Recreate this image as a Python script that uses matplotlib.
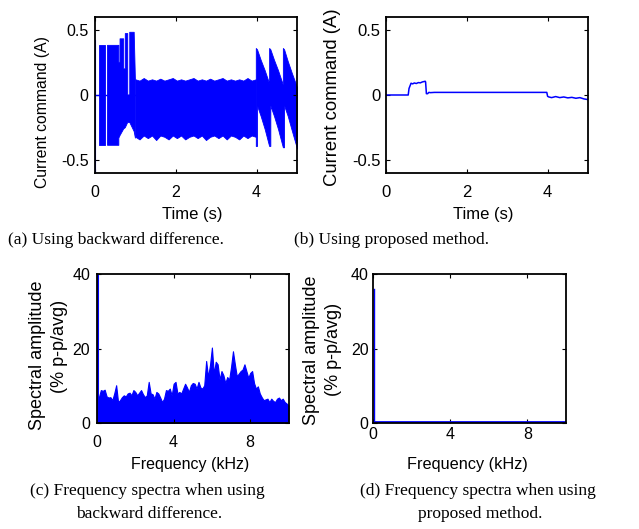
import matplotlib
matplotlib.use("Agg")
import matplotlib.pyplot as plt
import numpy as np

W, H = 639, 529
BLUE = "#0000ff"
SANS = ["Liberation Sans", "DejaVu Sans"]
SERIF = ["Liberation Serif", "DejaVu Serif"]

plt.rcParams["font.family"] = SANS
plt.rcParams["axes.unicode_minus"] = False

nan = np.nan

# (a) current command, backward difference -- envelope of the dense switching band
a_spike_t = [0.012, 0.012]
a_spike_v = [-0.60, 0.41]
a_base_t = [0.0, 1.0]
a_base_v = [0.0, 0.0]

a_start_t = [0.09, 0.25, nan, 0.31, 0.59, 0.59, 0.62, 0.62, 0.71, 0.71, 0.75, 0.75,
             0.81, 0.81, 0.86, 0.86, 0.97, 1.00]
a_start_hi = [0.38, 0.38, nan, 0.38, 0.38, 0.25, 0.25, 0.43, 0.43, 0.20, 0.20, 0.47,
              0.47, 0.00, 0.00, 0.48, 0.48, 0.12]
a_start_lo = [-0.385, -0.385, nan, -0.385, -0.385, -0.33, -0.31, -0.31, -0.26, -0.26,
              -0.25, -0.25, -0.21, -0.21, -0.21, -0.21, -0.28, -0.33]

a_band_hi = [0.12, 0.11, 0.13, 0.11, 0.12, 0.11, 0.125, 0.11, 0.12, 0.13, 0.11, 0.12,
             0.11, 0.12, 0.13, 0.11, 0.12, 0.11, 0.125, 0.11, 0.12, 0.13, 0.11, 0.12,
             0.11, 0.12, 0.11, 0.13, 0.11, 0.12]
a_band_lo = [-0.32, -0.34, -0.31, -0.33, -0.31, -0.345, -0.31, -0.32, -0.34, -0.31,
             -0.33, -0.31, -0.34, -0.32, -0.31, -0.33, -0.31, -0.345, -0.32, -0.31,
             -0.33, -0.31, -0.34, -0.31, -0.32, -0.34, -0.31, -0.33, -0.31, -0.32]

a_teeth_t = [3.98, 3.98, 4.01, 4.01, 4.10, 4.20, 4.31, 4.31, 4.34, 4.34, 4.43, 4.53,
             4.65, 4.65, 4.68, 4.68, 4.77, 4.87, 5.00]
a_teeth_hi = [0.11, 0.36, 0.35, 0.35, 0.27, 0.19, 0.09, 0.36, 0.35, 0.35, 0.27, 0.19,
              0.08, 0.36, 0.35, 0.35, 0.26, 0.17, 0.06]
a_teeth_lo = [-0.32, -0.39, -0.39, -0.08, -0.16, -0.26, -0.39, -0.39, -0.39, -0.08,
              -0.16, -0.26, -0.40, -0.40, -0.40, -0.08, -0.16, -0.27, -0.41]

# (b) current command, proposed method
b_t = [0.0, 0.55, 0.57, 0.62, 0.66, 0.70, 0.75, 0.80, 0.85, 0.90, 0.97, 0.98, 1.00,
       1.03, 1.06, 1.10, 1.20, 3.98, 4.00, 4.03, 4.10, 4.20, 4.30, 4.40, 4.50, 4.60,
       4.70, 4.80, 4.90, 5.00]
b_v = [0.0, 0.0, 0.05, 0.09, 0.085, 0.092, 0.088, 0.095, 0.093, 0.10, 0.105, 0.10,
       0.01, 0.01, 0.02, 0.018, 0.02, 0.02, -0.01, -0.015, -0.02, -0.012, -0.02,
       -0.015, -0.022, -0.018, -0.025, -0.02, -0.03, -0.035]

# (c) spectrum, backward difference: peak amplitude every 0.1 kHz, 0..10 kHz
c_amp = [6.2, 7.0, 8.9, 8.7, 9.0, 7.2, 6.9, 7.0, 6.2, 8.0,
         10.2, 5.7, 6.2, 7.0, 7.5, 7.2, 8.0, 8.2, 7.5, 8.9,
         8.4, 7.5, 8.2, 8.9, 7.8, 7.0, 7.5, 11.1, 8.0, 7.8,
         6.6, 8.4, 8.0, 6.9, 5.7, 6.6, 8.9, 8.7, 9.3, 7.5,
         10.6, 11.1, 8.0, 8.4, 8.0, 9.3, 10.6, 9.6, 8.4, 10.2,
         10.8, 10.6, 9.3, 11.1, 9.6, 9.3, 10.2, 16.7, 12.4, 15.6,
         20.3, 13.3, 16.5, 15.8, 11.7, 14.0, 12.9, 10.8, 12.4, 11.7,
         15.1, 19.3, 15.8, 12.6, 13.3, 14.0, 14.4, 15.8, 14.0, 12.2,
         13.5, 14.0, 10.8, 9.3, 9.9, 8.0, 7.0, 6.2, 6.4, 6.6,
         5.7, 6.6, 6.0, 5.7, 6.6, 6.9, 6.2, 6.6, 5.7, 5.3,
         4.8]
c_dc_f = [0.03, 0.03]
c_dc_v = [0.0, 40.0]

# (d) spectrum, proposed method
d_dc_f = [0.03, 0.03]
d_dc_v = [0.3, 36.0]
d_f = [0.0, 10.0]
d_v = [0.3, 0.3]


def add_axes(fig, left, top, right, bottom):
    return fig.add_axes([left / W, 1 - bottom / H, (right - left) / W, (bottom - top) / H])


def frame(ax, xlim, ylim, xticks, yticks, ylabels, xpad, ypad, size):
    ax.set_xlim(*xlim)
    ax.set_ylim(*ylim)
    ax.set_xticks(xticks)
    ax.set_xticklabels([str(v) for v in xticks])
    ax.set_yticks(yticks)
    ax.set_yticklabels(ylabels)
    ax.tick_params(direction="in", top=True, right=True, length=3, width=0.8,
                   labelsize=size)
    ax.tick_params(axis="x", pad=xpad)
    ax.tick_params(axis="y", pad=ypad)
    for s in ax.spines.values():
        s.set_linewidth(1.3)


def label(fig, x, y, text, size, rot=0, family=SANS):
    fig.text(x / W, 1 - y / H, text, ha="center", va="center", rotation=rot,
             fontsize=size, family=family)


fig = plt.figure(figsize=(W / 100, H / 100), dpi=100)

# (a)
ax = add_axes(fig, 95, 16.6, 297, 173.4)
ax.plot(a_base_t, a_base_v, color=BLUE, lw=1)
ax.fill_between(a_start_t, a_start_lo, a_start_hi, color=BLUE, lw=0.6, ec=BLUE)
band_t = np.linspace(1.0, 3.98, len(a_band_hi))
ax.fill_between(band_t, a_band_lo, a_band_hi, color=BLUE, lw=0.6, ec=BLUE)
ax.fill_between(a_teeth_t, a_teeth_lo, a_teeth_hi, color=BLUE, lw=0.6, ec=BLUE)
ax.plot(a_spike_t, a_spike_v, color=BLUE, lw=1.5)
frame(ax, (0, 5), (-0.6, 0.6), [0, 2, 4], [-0.5, 0, 0.5], ["-0.5", "0", "0.5"],
      8.0, 4.5, 11.5)

# (b)
ax = add_axes(fig, 386, 16.6, 588, 173.4)
ax.plot(b_t, b_v, color=BLUE, lw=1.1)
frame(ax, (0, 5), (-0.6, 0.6), [0, 2, 4], [-0.5, 0, 0.5], ["-0.5", "0", "0.5"],
      8.0, 4.0, 12)

# (c)
ax = add_axes(fig, 97, 274, 288.5, 423.3)
c_f = np.linspace(0, 10, len(c_amp))
ax.fill_between(c_f, 0, c_amp, color=BLUE, lw=0.8, ec=BLUE)
ax.plot(c_dc_f, c_dc_v, color=BLUE, lw=1.5)
frame(ax, (0, 10), (0, 40), [0, 4, 8], [0, 20, 40], ["0", "20", "40"],
      8.5, 5.0, 11.5)

# (d)
ax = add_axes(fig, 373.3, 274, 566, 423.3)
ax.plot(d_f, d_v, color=BLUE, lw=2.0)
ax.plot(d_dc_f, d_dc_v, color=BLUE, lw=1.0)
frame(ax, (0, 10), (0, 40), [0, 4, 8], [0, 20, 40], ["0", "20", "40"],
      3.0, 3.5, 11.5)

# axis titles
label(fig, 192, 214.7, "Time (s)", 12)
label(fig, 483, 215, "Time (s)", 12)
label(fig, 42.5, 112.5, "Current command (A)", 11.3, rot=90)
label(fig, 332.5, 97, "Current command (A)", 13.3, rot=90)
label(fig, 190, 465, "Frequency (kHz)", 11.5)
label(fig, 467, 465, "Frequency (kHz)", 11.7)
label(fig, 37.5, 355, "Spectral amplitude", 13, rot=90)
label(fig, 60, 346, "(% p-p/avg)", 13, rot=90)
label(fig, 312, 350, "Spectral amplitude", 13, rot=90)
label(fig, 333, 349, "(% p-p/avg)", 13, rot=90)

# captions
label(fig, 116, 240, "(a) Using backward difference.", 12.5, family=SERIF)
label(fig, 392, 240, "(b) Using proposed method.", 12.5, family=SERIF)
label(fig, 147.5, 491, "(c) Frequency spectra when using", 12.5, family=SERIF)
label(fig, 149, 514, "backward difference.", 12.5, family=SERIF)
label(fig, 478, 491, "(d) Frequency spectra when using", 12.5, family=SERIF)
label(fig, 480, 514, "proposed method.", 12.5, family=SERIF)

fig.savefig("out.png", dpi=100)
